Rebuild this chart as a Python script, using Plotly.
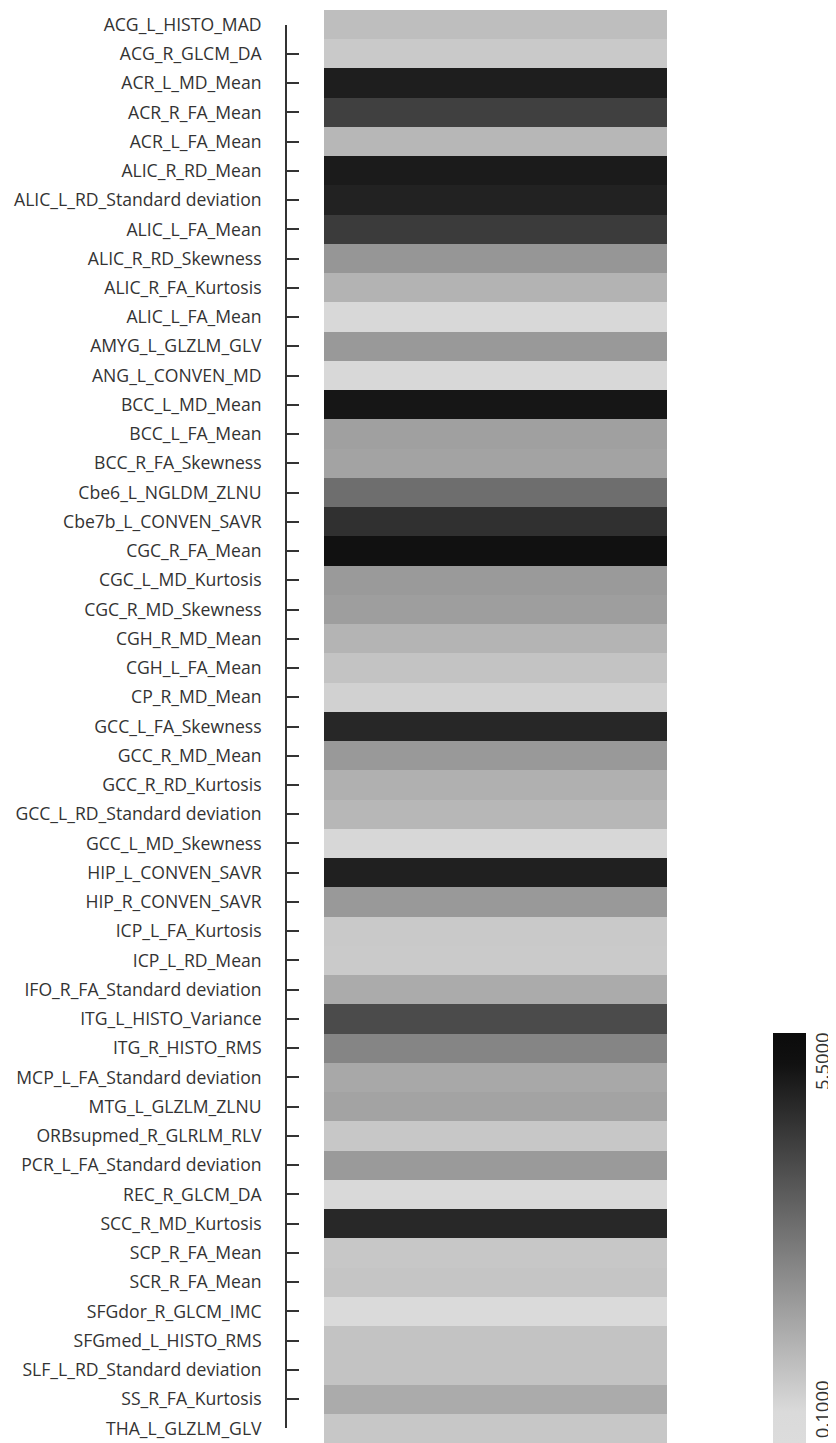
import plotly.graph_objects as go

features = [
    "ACG_L_HISTO_MAD", "ACG_R_GLCM_DA", "ACR_L_MD_Mean", "ACR_R_FA_Mean", "ACR_L_FA_Mean",
    "ALIC_R_RD_Mean", "ALIC_L_RD_Standard deviation", "ALIC_L_FA_Mean", "ALIC_R_RD_Skewness",
    "ALIC_R_FA_Kurtosis", "ALIC_L_FA_Mean", "AMYG_L_GLZLM_GLV", "ANG_L_CONVEN_MD",
    "BCC_L_MD_Mean", "BCC_L_FA_Mean", "BCC_R_FA_Skewness", "Cbe6_L_NGLDM_ZLNU",
    "Cbe7b_L_CONVEN_SAVR", "CGC_R_FA_Mean", "CGC_L_MD_Kurtosis", "CGC_R_MD_Skewness",
    "CGH_R_MD_Mean", "CGH_L_FA_Mean", "CP_R_MD_Mean", "GCC_L_FA_Skewness", "GCC_R_MD_Mean",
    "GCC_R_RD_Kurtosis", "GCC_L_RD_Standard deviation", "GCC_L_MD_Skewness",
    "HIP_L_CONVEN_SAVR", "HIP_R_CONVEN_SAVR", "ICP_L_FA_Kurtosis", "ICP_L_RD_Mean",
    "IFO_R_FA_Standard deviation", "ITG_L_HISTO_Variance", "ITG_R_HISTO_RMS",
    "MCP_L_FA_Standard deviation", "MTG_L_GLZLM_ZLNU", "ORBsupmed_R_GLRLM_RLV",
    "PCR_L_FA_Standard deviation", "REC_R_GLCM_DA", "SCC_R_MD_Kurtosis", "SCP_R_FA_Mean",
    "SCR_R_FA_Mean", "SFGdor_R_GLCM_IMC", "SFGmed_L_HISTO_RMS",
    "SLF_L_RD_Standard deviation", "SS_R_FA_Kurtosis", "THA_L_GLZLM_GLV",
]

importance = [
    0.84, 0.55, 5.16, 4.23, 1.03,
    5.24, 5.05, 4.36, 1.93,
    1.16, 0.15, 1.85, 0.15,
    5.37, 1.66, 1.58, 2.99,
    4.68, 5.50, 1.82, 1.71,
    1.13, 0.71, 0.34, 4.92, 1.85,
    1.24, 1.03, 0.18,
    5.10, 1.85, 0.55, 0.52,
    1.37, 3.94, 2.38,
    1.45, 1.58, 0.60,
    1.82, 0.13, 4.89, 0.60,
    0.66, 0.10, 0.71,
    0.71, 1.37, 0.60,
]

cbar_ticks = [0.1, 5.5]
cbar_ticktext = ["0.1000", "5.5000"]

zmin, zmax = -0.38, 5.98
f_lo = (cbar_ticks[0] - zmin) / (zmax - zmin)
f_hi = (cbar_ticks[1] - zmin) / (zmax - zmin)
colorscale = [
    [0.0, "#dcdcdc"],
    [f_lo, "#dadada"],
    [f_hi, "#111111"],
    [1.0, "#0b0b0b"],
]

rows = list(range(len(features)))

fig = go.Figure()
fig.add_trace(go.Heatmap(
    z=[[v] for v in importance],
    y=rows,
    zmin=zmin, zmax=zmax,
    colorscale=colorscale,
    hoverinfo="skip",
    colorbar=dict(
        x=(773 - 286) / 381, xanchor="left", xpad=0,
        y=0, yanchor="bottom", ypad=0,
        len=410, lenmode="pixels",
        thickness=33,
        outlinewidth=0,
        tickmode="array", tickvals=cbar_ticks, ticktext=cbar_ticktext,
        ticks="", tickangle=-90,
        tickfont=dict(family="Open Sans", size=18.5, color="#333333"),
    ),
))
fig.add_trace(go.Scatter(
    y=rows, x=[0] * len(rows), mode="markers",
    marker=dict(size=1, opacity=0),
    hoverinfo="skip", showlegend=False,
    xaxis="x", yaxis="y2",
))

half = 0.5 / len(features)
# page body has an 8px margin, so the figure is 8px smaller than the window
fig.update_layout(
    width=828, height=1435,
    margin=dict(l=278, r=169, t=2, b=0, pad=0, autoexpand=False),
    paper_bgcolor="white", plot_bgcolor="rgba(0,0,0,0)",
    showlegend=False,
    xaxis=dict(domain=[38 / 381, 1], visible=False, showgrid=False, zeroline=False),
    yaxis=dict(visible=False, autorange="reversed", showgrid=False, zeroline=False),
    yaxis2=dict(
        domain=[half, 1 - half], anchor="free", position=0, side="left",
        range=[len(features) - 1, 0],
        tickmode="array", tickvals=rows, ticktext=features,
        showline=True, linecolor="#333333", linewidth=1.8,
        ticks="inside", ticklen=12, tickwidth=1.8, tickcolor="#333333",
        ticklabelstandoff=20,
        showgrid=False, zeroline=False, automargin=False,
        tickfont=dict(family="Open Sans", size=17.6, color="#333333"),
    ),
)

fig.write_html("out.html")
